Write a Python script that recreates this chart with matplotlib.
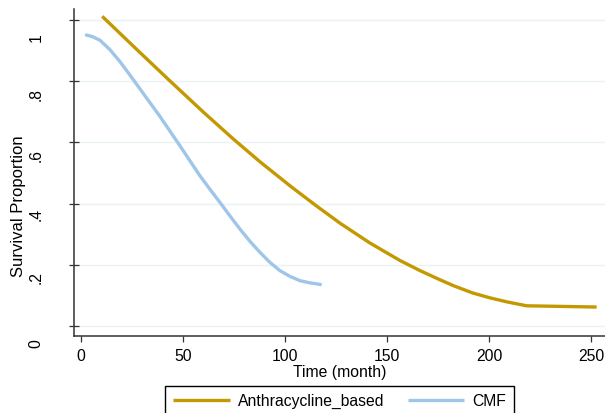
import matplotlib
matplotlib.use("Agg")
import matplotlib.pyplot as plt
import matplotlib.transforms as mtransforms

plt.rcParams['font.family'] = ['Liberation Sans', 'DejaVu Sans']

# Survival curves
anthra_time = [10.4, 27.3, 43.6, 60.0, 74.7, 87.7, 102.5, 114.7, 127.0, 141.7, 156.4,
               166.2, 176.0, 182.5, 192.0, 200.5, 208.7, 218.5, 252.8]
anthra_surv = [1.012, 0.904, 0.801, 0.699, 0.611, 0.537, 0.458, 0.396, 0.336, 0.271, 0.214,
               0.181, 0.151, 0.132, 0.108, 0.092, 0.079, 0.066, 0.062]

cmf_time = [2.0, 5.5, 9.3, 14.2, 19.1, 24.0, 28.9, 33.8, 38.7, 43.6, 48.5, 53.4, 58.3,
            63.2, 68.1, 73.0, 77.9, 82.8, 87.7, 92.6, 97.5, 102.5, 107.4, 112.3, 118.0]
cmf_surv = [0.952, 0.946, 0.934, 0.903, 0.864, 0.820, 0.775, 0.730, 0.685, 0.637, 0.589,
            0.540, 0.491, 0.447, 0.404, 0.360, 0.317, 0.277, 0.241, 0.208, 0.181, 0.162,
            0.148, 0.141, 0.135]

y_ticks = [0, 0.2, 0.4, 0.6, 0.8, 1.0]
y_tick_labels = ['0', '.2', '.4', '.6', '.8', '1']
x_ticks = [0, 50, 100, 150, 200, 250]

gold = '#C49800'
light_blue = '#9FC6E8'

fig = plt.figure(figsize=(6.05, 4.14), dpi=100)
ax = fig.add_axes([74 / 605, 77 / 414, 531 / 605, 327 / 414])

ax.plot(anthra_time, anthra_surv, color=gold, lw=2.4, label='Anthracycline_based',
        solid_capstyle='butt', solid_joinstyle='round')
ax.plot(cmf_time, cmf_surv, color=light_blue, lw=2.4, label='CMF',
        solid_capstyle='butt', solid_joinstyle='round')

ax.set_xlim(-3.43, 256.9)
ax.set_ylim(-0.0327, 1.036)

ax.set_xticks(x_ticks)
ax.set_yticks(y_ticks)
ax.set_yticklabels(y_tick_labels, rotation=90, va='center')

ax.grid(axis='y', color='#EAF2F3', lw=1.0)
ax.set_axisbelow(True)

for side in ['top', 'right']:
    ax.spines[side].set_visible(False)
for side in ['left', 'bottom']:
    ax.spines[side].set_color('#333333')
    ax.spines[side].set_linewidth(1.1)

ax.tick_params(axis='x', direction='out', length=4.5, width=0.9, color='#333333',
               pad=4, labelsize=11.3)
ax.tick_params(axis='y', direction='inout', length=7.5, width=0.9, color='#333333',
               pad=18, labelsize=11.3)

# the y labels sit a little below their ticks in the original
shifts = [17, 12, 10, 12, 12, 17]
for lab, dy in zip(ax.get_yticklabels(), shifts):
    off = mtransforms.ScaledTranslation(0, -dy / 100, fig.dpi_scale_trans)
    lab.set_transform(lab.get_transform() + off)

ax.set_xlabel('Time (month)', fontsize=11.3)
ax.xaxis.set_label_coords(0.5, -0.085)
ax.xaxis.label.set_va('top')
ax.set_ylabel('Survival Proportion', fontsize=12)
ax.yaxis.set_label_coords(-0.09, 0.40)

leg = fig.legend(loc='upper center', bbox_to_anchor=(339.5 / 605, 1 - 386.5 / 414),
                 ncol=2, fontsize=11.3, frameon=True, fancybox=False,
                 edgecolor='black', framealpha=1, handlelength=3.6,
                 handletextpad=0.5, columnspacing=1.5, borderpad=0.5,
                 borderaxespad=0)
leg.get_frame().set_linewidth(1.0)

fig.savefig('out.png', dpi=100)
